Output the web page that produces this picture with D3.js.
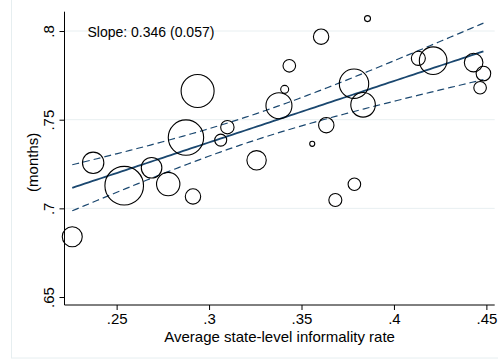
<!DOCTYPE html>
<html>
<head>
<meta charset="utf-8">
<script src="https://cdn.jsdelivr.net/npm/d3@7"></script>
<style>
  html, body { margin: 0; padding: 0; background: #fff; }
  svg { display: block; font-family: "Liberation Sans", Arial, Helvetica, sans-serif; }
</style>
</head>
<body>
<svg id="chart" width="498" height="360"></svg>
<script>
// State-level informality vs. duration (months), bubble size = state weight
const informality = [0.2260, 0.2373, 0.2541, 0.2689, 0.2779, 0.2913, 0.2875, 0.2938, 0.3063,
  0.3099, 0.3257, 0.3378, 0.3409, 0.3434, 0.3558, 0.3606, 0.3634, 0.3683, 0.3784, 0.3786,
  0.3833, 0.3857, 0.4132, 0.4212, 0.4431, 0.4484, 0.4466];
const duration = [0.6840, 0.7257, 0.7128, 0.7229, 0.7137, 0.7067, 0.7399, 0.7662, 0.7385,
  0.7458, 0.7271, 0.7579, 0.7671, 0.7804, 0.7364, 0.7968, 0.7469, 0.7047, 0.7703, 0.7136,
  0.7584, 0.8070, 0.7846, 0.7833, 0.7822, 0.7760, 0.7680];
const weight = [25.0, 28.6, 93.1, 26.5, 34.2, 14.8, 78.3, 68.1, 9.0, 11.2, 23.5, 42.3, 4.0,
  9.9, 1.6, 14.8, 14.8, 10.6, 54.0, 9.9, 37.8, 2.25, 12.3, 47.6, 21.6, 13.3, 9.9];

// Weighted linear fit and its 95% confidence band
const slope = 0.346;
const slopeSE = 0.057;
const intercept = 0.6334;
const xMean = 0.3218;
const meanSE = 0.00375;
const z95 = 1.96;

const xTicks = [0.25, 0.30, 0.35, 0.40, 0.45];
const xTickLabels = [".25", ".3", ".35", ".4", ".45"];
const yTicks = [0.65, 0.70, 0.75, 0.80];
const yTickLabels = [".65", ".7", ".75", ".8"];
const yGrid = [0.70, 0.75, 0.80];

const slopeText = "Slope: 0.346 (0.057)";
const xTitle = "Average state-level informality rate";
const yTitle = "(months)";

const svg = d3.select("#chart");
const W = 498, H = 360;
const plot = { left: 64.5, right: 494.7, top: 11.7, bottom: 305 };

const x = d3.scaleLinear().domain([0.2218, 0.4545]).range([plot.left, plot.right]);
const y = d3.scaleLinear().domain([0.6455, 0.8109]).range([plot.bottom, plot.top]);
const r = d3.scaleSqrt().domain([0, 100]).range([0, 20]);

const navy = "#1a476f";

// graph region frame
svg.append("rect")
  .attr("x", 11.5).attr("y", -5)
  .attr("width", W).attr("height", 358 - (-5))
  .attr("fill", "#fff")
  .attr("stroke", "#e6eef0").attr("stroke-width", 1);

// horizontal grid
svg.append("g").selectAll("line").data(yGrid).join("line")
  .attr("x1", plot.left).attr("x2", plot.right)
  .attr("y1", d => y(d)).attr("y2", d => y(d))
  .attr("stroke", "#e8eff1").attr("stroke-width", 1);

// confidence band lines and fit
const xs = d3.extent(informality);
const fitPts = d3.range(0, 101).map(i => xs[0] + (xs[1] - xs[0]) * i / 100);
const fit = v => intercept + slope * v;
const half = v => z95 * Math.sqrt(meanSE * meanSE + slopeSE * slopeSE * (v - xMean) * (v - xMean));

const line = d3.line().x(d => x(d[0])).y(d => y(d[1]));

svg.append("path")
  .datum(fitPts.map(v => [v, fit(v) + half(v)]))
  .attr("d", line).attr("fill", "none")
  .attr("stroke", navy).attr("stroke-width", 1.2).attr("stroke-dasharray", "7,4");
svg.append("path")
  .datum(fitPts.map(v => [v, fit(v) - half(v)]))
  .attr("d", line).attr("fill", "none")
  .attr("stroke", navy).attr("stroke-width", 1.2).attr("stroke-dasharray", "7,4");
svg.append("path")
  .datum(fitPts.map(v => [v, fit(v)]))
  .attr("d", line).attr("fill", "none")
  .attr("stroke", navy).attr("stroke-width", 1.8);

// bubbles
svg.append("g").selectAll("circle").data(informality.map((v, i) => i)).join("circle")
  .attr("cx", i => x(informality[i]))
  .attr("cy", i => y(duration[i]))
  .attr("r", i => r(weight[i]))
  .attr("fill", "none")
  .attr("stroke", "#000").attr("stroke-width", 1.1);

// axes
const xAxis = d3.axisBottom(x).tickValues(xTicks)
  .tickFormat((d, i) => xTickLabels[i]).tickSize(5).tickSizeOuter(0);
const gx = svg.append("g").attr("transform", `translate(0,${plot.bottom})`).call(xAxis);
gx.select(".domain").attr("stroke", "#000").attr("d", `M${plot.left},0H${plot.right}`);
gx.selectAll(".tick line").attr("stroke", "#000");
gx.selectAll(".tick text").attr("font-size", 15).attr("fill", "#000")
  .attr("font-family", "Liberation Sans, Arial, sans-serif").attr("dy", "0.95em").attr("y", 5);

const yAxis = d3.axisLeft(y).tickValues(yTicks)
  .tickFormat((d, i) => yTickLabels[i]).tickSize(5).tickSizeOuter(0);
const gy = svg.append("g").attr("transform", `translate(${plot.left},0)`).call(yAxis);
gy.select(".domain").attr("stroke", "#000").attr("d", `M0,${plot.top}V${plot.bottom}`);
gy.selectAll(".tick line").attr("stroke", "#000");
gy.selectAll(".tick text")
  .attr("font-size", 15).attr("fill", "#000")
  .attr("font-family", "Liberation Sans, Arial, sans-serif")
  .attr("x", null).attr("dy", null)
  .attr("text-anchor", "middle")
  .attr("transform", "translate(-11,0) rotate(-90)");

// annotation
svg.append("text")
  .attr("x", 87.5).attr("y", 36.5)
  .attr("font-size", 14).attr("fill", "#000")
  .text(slopeText);

// axis titles
svg.append("text")
  .attr("x", (plot.left + plot.right) / 2).attr("y", 342)
  .attr("text-anchor", "middle")
  .attr("font-size", 15).attr("fill", "#000")
  .text(xTitle);

svg.append("text")
  .attr("transform", `translate(38,${(plot.top + plot.bottom) / 2 + 4}) rotate(-90)`)
  .attr("text-anchor", "middle")
  .attr("font-size", 15).attr("fill", "#000")
  .text(yTitle);
</script>
</body>
</html>
